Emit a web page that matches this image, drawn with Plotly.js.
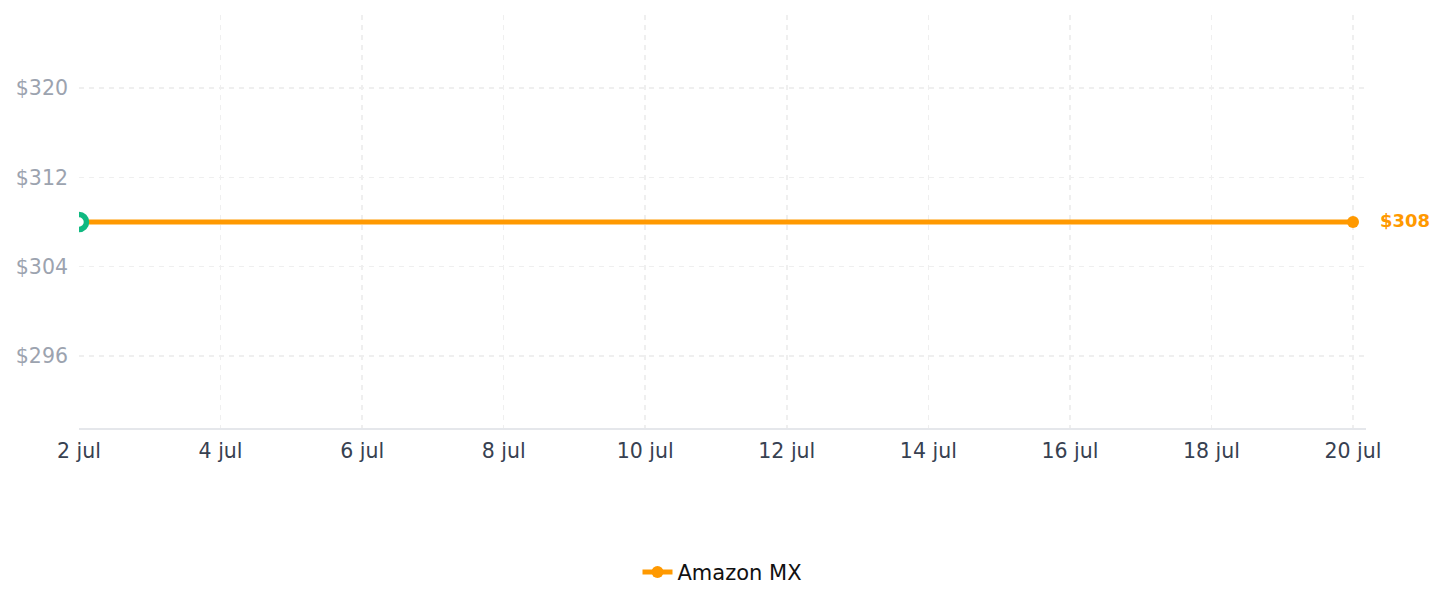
<!DOCTYPE html>
<html>
<head>
<meta charset="utf-8">
<script src="https://cdn.plot.ly/plotly-3.0.1.min.js"></script>
<style>html,body{margin:0;padding:0;background:#fff;}#chart{width:1447px;height:607px;}</style>
</head>
<body>
<div id="chart"></div>
<script>
// Data
const dates = ['2025-07-02', '2025-07-20'];
const prices = [308, 308];
const seriesName = 'Amazon MX';
const startDate = ['2025-07-02'];
const startPrice = [308];
const lastLabel = '$308';
const tickDates = ['2025-07-02','2025-07-04','2025-07-06','2025-07-08','2025-07-10','2025-07-12','2025-07-14','2025-07-16','2025-07-18','2025-07-20'];
const tickLabels = ['2 jul','4 jul','6 jul','8 jul','10 jul','12 jul','14 jul','16 jul','18 jul','20 jul'];
const yTicks = [296, 304, 312, 320];
const yTickLabels = ['$296', '$304', '$312', '$320'];

const ORANGE = '#ff9900';
const GREEN = '#10b981';
const FONT = 'DejaVu Sans, sans-serif';

const traces = [
  {
    x: dates, y: prices, name: seriesName, type: 'scatter', mode: 'lines+markers',
    line: {color: ORANGE, width: 5},
    marker: {color: ORANGE, size: 12},
    showlegend: true
  },
  {
    x: startDate, y: startPrice, type: 'scatter', mode: 'markers',
    marker: {color: '#ffffff', size: 15, line: {color: GREEN, width: 5.5}},
    showlegend: false, hoverinfo: 'skip'
  }
];

const layout = {
  width: 1447, height: 607,
  margin: {l: 79, r: 81, t: 15, b: 179},
  paper_bgcolor: '#ffffff', plot_bgcolor: '#ffffff',
  font: {family: FONT},
  xaxis: {
    type: 'date',
    range: ['2025-07-02', '2025-07-20 04:24'],
    tickvals: tickDates, ticktext: tickLabels,
    tickfont: {family: FONT, size: 20.5, color: '#374151'},
    showgrid: true, gridcolor: '#efefef', gridwidth: 1.5, griddash: '5px,5px',
    showline: true, linecolor: '#e5e7eb', linewidth: 2,
    zeroline: false, ticks: '', ticklabelstandoff: 3
  },
  yaxis: {
    range: [289.55, 326.54],
    tickvals: yTicks, ticktext: yTickLabels,
    tickfont: {family: FONT, size: 20.5, color: '#9ca3af'},
    showgrid: true, gridcolor: '#efefef', gridwidth: 1.5, griddash: '5px,5px',
    showline: false, zeroline: false, ticks: '', ticklabelstandoff: 10
  },
  legend: {
    orientation: 'h', x: 0.5, xanchor: 'center', y: -0.30, yanchor: 'top',
    font: {family: FONT, size: 21, color: '#111111'}
  },
  annotations: [{
    x: dates[dates.length - 1], y: prices[prices.length - 1], xref: 'x', yref: 'y',
    text: '<b>' + lastLabel + '</b>', showarrow: false, xanchor: 'left', xshift: 25, yshift: 2,
    font: {family: FONT, size: 18, color: ORANGE}
  }],
  showlegend: true
};

Plotly.newPlot('chart', traces, layout, {displayModeBar: false, staticPlot: true});
</script>
</body>
</html>
